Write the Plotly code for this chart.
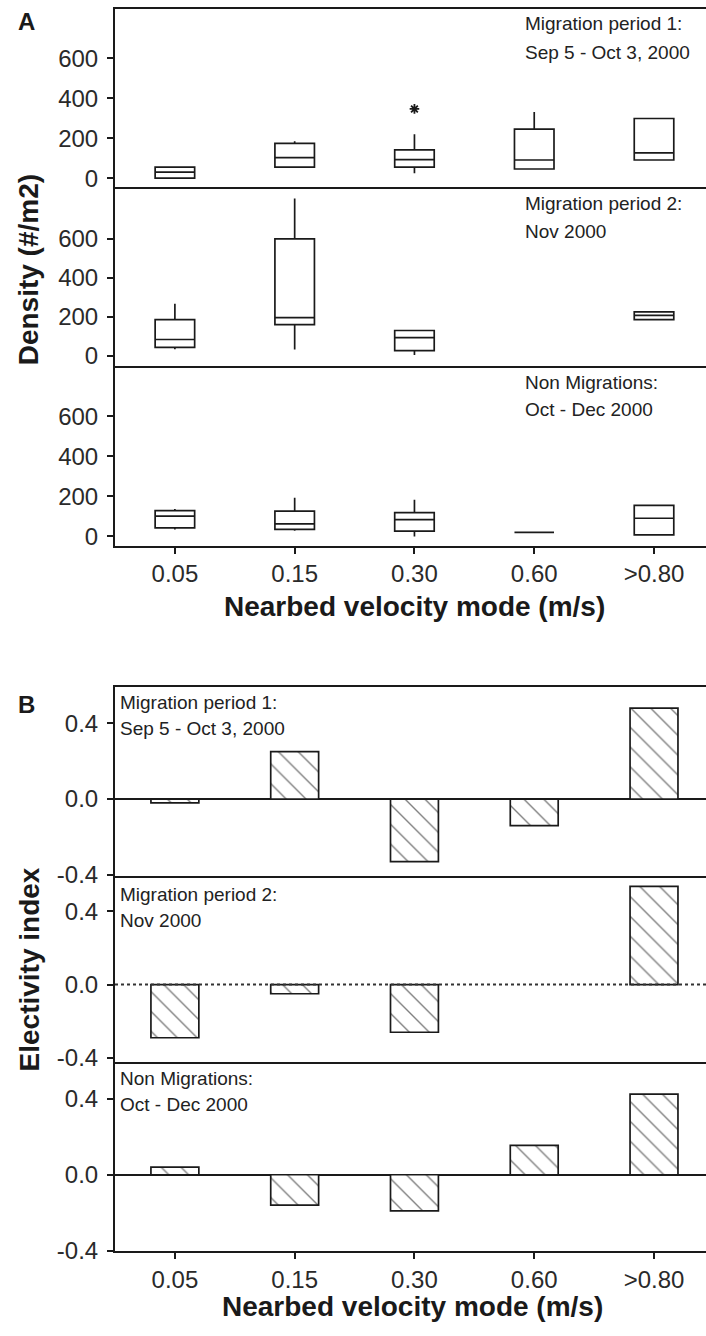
import plotly.graph_objects as go

# ---------------- data ----------------
categories = ["0.05", "0.15", "0.30", "0.60", ">0.80"]

# Panel A: box statistics (Density, #/m2)
a1_cats = ["0.05", "0.15", "0.30", "0.60", ">0.80"]
a1_q1 = [0, 55, 55, 46, 91]
a1_med = [30, 103, 93, 91, 127]
a1_q3 = [55, 174, 142, 246, 299]
a1_low = [0, 55, 25, 46, 91]
a1_up = [55, 185, 220, 331, 299]
a1_out_x = ["0.30"]
a1_out_y = [347]

a2_cats = ["0.05", "0.15", "0.30", ">0.80"]
a2_q1 = [44, 160, 27, 186]
a2_med = [84, 196, 94, 208]
a2_q3 = [186, 600, 130, 226]
a2_low = [34, 33, 5, 186]
a2_up = [267, 807, 130, 226]

a3_cats = ["0.05", "0.15", "0.30", "0.60", ">0.80"]
a3_q1 = [43, 35, 27, 20, 8]
a3_med = [102, 63, 84, 20, 91]
a3_q3 = [129, 127, 119, 20, 155]
a3_low = [35, 28, 0, 20, 8]
a3_up = [137, 193, 183, 20, 155]

# Panel B: electivity index
b1_vals = [-0.02, 0.25, -0.33, -0.14, 0.48]
b2_vals = [-0.29, -0.05, -0.26, None, 0.535]
b3_vals = [0.04, -0.16, -0.19, 0.155, 0.425]

a_ticks = [0, 200, 400, 600]
b_tickvals = [-0.4, 0.0, 0.4]
b_ticktext = ["-0.4", "0.0", "0.4"]

period_lines = [
    ("Migration period 1:", "Sep 5 - Oct 3, 2000"),
    ("Migration period 2:", "Nov 2000"),
    ("Non Migrations:", "Oct - Dec 2000"),
]

# ---------------- layout helpers ----------------
W, H = 706, 1336
FONT = "Liberation Sans, Arial, Helvetica, sans-serif"
INK = "#1a1a1a"


def ydom(top, bot):
    return [1 - bot / H, 1 - top / H]


def py(y):
    return 1 - y / H


XDOM = [115 / W, 1.0]
XRANGE = [-0.5, 4.434]

fig = go.Figure()

box_style = dict(
    fillcolor="white",
    line=dict(color=INK, width=1.7),
    whiskerwidth=0,
    width=0.33,
    boxpoints=False,
    showlegend=False,
    hoverinfo="skip",
)

fig.add_trace(go.Box(x=a1_cats, q1=a1_q1, median=a1_med, q3=a1_q3,
                     lowerfence=a1_low, upperfence=a1_up,
                     xaxis="x", yaxis="y", **box_style))
fig.add_trace(go.Scatter(x=a1_out_x, y=a1_out_y, mode="markers",
                         marker=dict(symbol="asterisk-open", size=8, color=INK,
                                     line=dict(color=INK, width=1.8)),
                         showlegend=False, xaxis="x", yaxis="y"))
fig.add_trace(go.Box(x=a2_cats, q1=a2_q1, median=a2_med, q3=a2_q3,
                     lowerfence=a2_low, upperfence=a2_up,
                     xaxis="x2", yaxis="y2", **box_style))
fig.add_trace(go.Box(x=a3_cats, q1=a3_q1, median=a3_med, q3=a3_q3,
                     lowerfence=a3_low, upperfence=a3_up,
                     xaxis="x3", yaxis="y3", **box_style))

bar_style = dict(
    width=0.40,
    marker=dict(color="white",
                line=dict(color=INK, width=1.7),
                pattern=dict(shape="\\", fgcolor="black", bgcolor="white",
                             size=14, solidity=0.1)),
    showlegend=False,
    hoverinfo="skip",
)
for vals, xa, ya in [(b1_vals, "x4", "y4"), (b2_vals, "x5", "y5"),
                     (b3_vals, "x6", "y6")]:
    fig.add_trace(go.Bar(x=categories, y=vals, xaxis=xa, yaxis=ya, **bar_style))

tickfont = dict(family=FONT, size=24, color="#2a2a2a")

base_x = dict(domain=XDOM, range=XRANGE, type="category",
              categoryorder="array", categoryarray=categories,
              showgrid=False, zeroline=False, showline=True,
              linecolor=INK, linewidth=2, fixedrange=True)
base_y = dict(showgrid=False, showline=True, linecolor=INK, linewidth=2,
              ticks="outside", ticklen=6, tickwidth=1.5, tickcolor=INK,
              tickfont=tickfont, ticklabelstandoff=4, fixedrange=True)

layout = dict(
    width=W, height=H,
    margin=dict(l=0, r=0, t=0, b=0),
    paper_bgcolor="white", plot_bgcolor="white",
    showlegend=False,
    font=dict(family=FONT, color=INK),
)

a_dom = [(9, 189, [-45, 848]), (190, 370, [-54, 860]), (370, 551, [-46, 850])]
b_dom = [(694, 885, [-0.408, 0.59]), (885, 1072, [-0.42, 0.59]),
         (1072, 1263, [-0.40, 0.596])]

for i, (top, bot, rng) in enumerate(a_dom):
    k = i + 1
    xa = dict(base_x, anchor=f"y{'' if k == 1 else k}")
    ya = dict(base_y, domain=ydom(top, bot), range=rng, tickvals=a_ticks,
              zeroline=False, anchor=f"x{'' if k == 1 else k}")
    if k == 1:
        xa["mirror"] = True
    if k == 3:
        xa.update(ticks="outside", ticklen=6, tickwidth=1.5, tickcolor=INK,
                  tickfont=tickfont, showticklabels=True)
    else:
        xa.update(ticks="", showticklabels=False)
    layout["xaxis" if k == 1 else f"xaxis{k}"] = xa
    layout["yaxis" if k == 1 else f"yaxis{k}"] = ya

for i, (top, bot, rng) in enumerate(b_dom):
    k = i + 4
    xa = dict(base_x, anchor=f"y{k}")
    ya = dict(base_y, domain=ydom(top, bot), range=rng, tickvals=b_tickvals,
              ticktext=b_ticktext, zeroline=(k != 5), zerolinecolor=INK,
              zerolinewidth=1.8, anchor=f"x{k}")
    if k == 4:
        xa["mirror"] = True
    if k == 6:
        xa.update(ticks="outside", ticklen=6, tickwidth=1.5, tickcolor=INK,
                  tickfont=tickfont, showticklabels=True)
    else:
        xa.update(ticks="", showticklabels=False)
    layout[f"xaxis{k}"] = xa
    layout[f"yaxis{k}"] = ya

fig.update_layout(**layout)

# dotted zero line in B middle panel
fig.add_shape(type="line", xref="x5 domain", x0=0, x1=1, yref="y5", y0=0, y1=0,
              line=dict(color="#333333", width=2, dash="dot"), layer="above")


def ann(text, x, y, font, xanchor="left", **kw):
    return dict(text=text, x=x / W, y=py(y), xref="paper", yref="paper",
                xanchor=xanchor, yanchor="middle", showarrow=False, font=font, **kw)


ann_font = dict(family=FONT, size=19, color="#222222")
annotations = []
a_text_y = [(24, 53), (206, 234), (386, 414)]
for (l1, l2), (y1, y2) in zip(period_lines, a_text_y):
    annotations.append(ann(l1, 523, y1, ann_font))
    annotations.append(ann(l2, 523, y2, ann_font))
b_text_y = [(709, 736), (903, 930), (1089, 1115)]
for (l1, l2), (y1, y2) in zip(period_lines, b_text_y):
    annotations.append(ann(l1, 118, y1, ann_font))
    annotations.append(ann(l2, 118, y2, ann_font))

bold = dict(family="Liberation Sans, Arial, sans-serif", size=28, color=INK)
annotations += [
    ann("<b>A</b>", 26, 22, dict(bold, size=24), xanchor="center"),
    ann("<b>B</b>", 26, 711, dict(bold, size=24), xanchor="center"),
    ann("<b>Density (#/m2)</b>", 28, 273, bold, xanchor="center", textangle=-90),
    ann("<b>Electivity index</b>", 29, 979, bold, xanchor="center", textangle=-90),
    ann("<b>Nearbed velocity mode (m/s)</b>", 414, 612, bold, xanchor="center"),
    ann("<b>Nearbed velocity mode (m/s)</b>", 412, 1319, bold, xanchor="center"),
]
fig.update_layout(annotations=annotations)

fig.write_html("out.html")
